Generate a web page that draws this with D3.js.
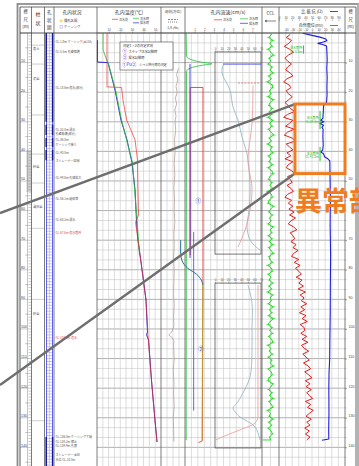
<!DOCTYPE html>
<html><head><meta charset="utf-8">
<script src="https://cdn.jsdelivr.net/npm/d3@7"></script>
<style>
html,body{margin:0;padding:0;background:#fff;overflow:hidden}
svg{display:block;font-family:"Noto Sans CJK JP","Noto Sans",sans-serif}
</style>
</head><body>
<svg id="c" width="359" height="466"></svg>
<script>
// ---------- data ----------
const depthLabels = [10,20,30,40,50,60,70,80,90,100,110,120,130,140];
// right-hand scale: the 60 m label sits under the callout text
const rightDepthLabels = [10,20,30,40,50,70,80,90,100,110,120,130,140];
const tempTicks = [10,20,30,40,50];
const flowTicks = [1,2,3,4,5,6,7];
const insetTicks = [0,10,20,30,40,50,60,70];
const resTicks = [0,10,20,30,40,50,60,70,80,90];
const spTicks = [-40,-30,-20,-10,0,10,20,30,40];

// borehole temperature (°C) by depth (m)
const tempBlueDepth = [2.4,9.8,10.0,19.3,29.4,36.1,43.9,53.0,63.2,69.9,80.0,90.2,101.0,102.0,103.7,117.2,130.7,138.2];
const tempBlueValue = [0.4,0.4,9.5,15.5,20.6,25.8,30.1,32.7,33.9,35.2,38.7,42.1,43.4,42.6,44.3,46.8,49.8,51.6];
const tempGreenDepth = [0,5.7,8.4,10.5,19.3,29.4,43.9,63.2,75.0];
const tempGreenValue = [5.2,5.2,7.7,9.9,16.0,21.1,30.5,34.4,36.5];
const tempRedDepth = [0,18.2,18.4,22.6,29.4,36.1,42.9,53.0,61.5,63.9,67.6,80.0,90.2,102.0,117.2,130.7,138.2];
const tempRedValue = [8.6,8.6,21.1,22.3,25.5,32.7,34.8,35.2,35.7,33.1,34.4,38.7,42.1,43.8,46.8,49.8,51.6];

// flow direction trace
const dirDepth = [12,14,16,18,20,22,24,26,28,30,33,36,40,44,48,52,56,60,64,68,72,76,80,84,88,92,96,99,101,102,103,104,106,110,114,118,122,126,130,134,138];
const dirValue = [2.9,2.6,2.8,2.5,2.7,2.4,2.6,2.3,2.5,2.35,2.45,2.25,2.35,2.2,2.3,2.15,2.25,2.2,2.3,2.15,2.2,2.1,2.2,2.15,2.1,2.2,2.1,2.15,1.8,1.3,1.9,2.15,2.1,2.2,2.05,2.15,2.1,2.2,2.05,2.1,2.15];

// flow velocity (cm/s)
const flowGreenDepth = [0,7.8,8.8,9.8,10.4,10.9,11.8,13.0,137.5];
const flowGreenValue = [0.12,0.15,0.5,1.6,2.8,1.8,0.6,0.15,0.12];
const flowBlueDepth = [10.5,76.0];
const flowBlueValue = [0.52,0.52];
const flowBlue2Depth = [67.2,127.6];
const flowBlue2Value = [0.9,0.9];
const flowRedDepth = [75.0,18.4,18.4,84.5,137.8,138.4];
const flowRedValue = [0.55,0.55,1.87,1.87,1.8,1.4];
const flowOliveDepth = [84.5,100,120,137.8];
const flowOliveValue = [1.85,1.82,1.8,1.78];
const flowTealDepth = [70,74.5,77,79.5,81.5,83.5,85];
const flowTealValue = [-0.45,-0.45,-0.3,0.3,1.2,1.7,1.85];
const flowMarks = ["①","②"];
const flowMarkDepth = [57.4,107.4];
const flowMarkValue = [1.1,1.35];

// inset profiles
const upperBoxDepth = [6.4,74.7];
const lowerBoxDepth = [84.5,140.2];
const upperCapDepth = 10.5;
const upperCapValue = [12.2,70];
const upperBlueDepth = [10.8,13.5,19.3,25.0,29.4,35.1,39.5,42.9,52.0,59.8,65.5,69.9,72.3,73.3];
const upperBlueValue = [12.2,10.6,22.8,27.4,35.0,41.0,47.2,50.2,53.3,51.8,48.7,53.3,62.4,68.5];
const upperRedDepth = [17.6,19.3,30.4,42.9,48.0,52.0,59.8,66.6,72.3];
const upperRedValue = [57.8,57.8,56.3,50.2,53.3,56.3,53.3,45.7,35.0];
const upperRedKeyDepth = 16.9;
const upperRedKeyValue = [35,68];
const lowerBlueDepth = [85.1,91.2,100.3,108.1,116.2,122.3,125.0,126.7,128.4,129.7,133.1,137.5];
const lowerBlueValue = [50.2,56.3,56.3,56.3,53.3,41.0,33.5,27.4,32.0,38.0,60.9,68.5];
const lowerRedDepth = [85.1,129.7,131.8,134.1,136.1,137.5];
const lowerRedValue = [65.4,65.4,60.9,38.0,15.2,1.0];

// CCL, sampled every 1 m from 0.5 m
const cclValue = [
 0.6,-1.2,1.5,-0.4,1.1,-1.6,0.3,1.8,-0.9,0.2,
 -1.4,1.0,-0.3,1.6,-1.1,0.5,-1.8,0.9,1.3,-0.6,
 0.4,-1.5,1.7,-0.2,-1.0,1.2,-0.7,0.8,-1.6,1.4,
 -0.5,1.1,-1.3,0.3,1.9,-0.8,0.6,-1.7,1.0,-0.1,
 1.5,-1.2,0.2,-0.9,1.3,-1.5,0.7,1.6,-0.4,-1.1,
 0.9,-0.3,1.4,-1.7,0.5,1.1,-0.8,-1.4,1.8,0.1,
 -1.0,1.2,-0.6,0.4,-1.5,1.6,-0.2,0.8,-1.3,1.0,
 -0.7,1.5,-1.1,0.3,1.7,-0.9,-0.4,1.2,-1.6,0.6,
 1.1,-1.3,0.2,-0.8,1.4,-1.0,0.7,-1.7,1.3,-0.2,
 0.5,-1.4,1.6,-0.6,0.9,-1.2,1.8,-0.3,-1.5,1.0,
 -0.4,1.3,-1.1,0.6,1.5,-1.6,0.2,-0.7,1.2,-1.3,
 0.8,-0.2,1.7,-1.4,0.4,1.1,-0.9,-1.5,1.4,0.3,
 -1.2,0.9,-0.5,1.6,-1.0,0.6,1.3,-1.7,0.1,-0.8,
 1.5,-1.1,0.7,-1.3,0.4,1.2,-0.6,0.2];
const cclEndDepth = 137.5;
const cclEndValue = [-4.6,0.2];

// self potential (mV), sampled every 1 m from 0.5 m
const spValue = [
 -33,-39,-31,-35,-42,-34,-28,-36,-41,-37,
 -31,-37,-40,-33,-29,-38,-43,-35,-32,-39,
 -36,-30,-35,-41,-36,-33,-26,-37,-43,-29,
 -34,-40,-27,-37,-42,-30,-25,-39,-34,-29,
 -38,-32,-41,-29,-36,-39,-31,-26,-37,-33,
 -30,-38,-32,-28,-37,-41,-31,-36,-29,-35,
 -27,-34,-25,-32,-36,-28,-23,-33,-29,-26,
 -32,-24,-29,-21,-28,-31,-20,-27,-18,-25,
 -20,-16,-24,-15,-20,-13,-21,-10,-18,-12,
 -16,-8,-17,-11,-19,-9,-15,-7,-18,-12,
 -11,-17,-8,-15,-6,-16,-12,-5,-14,-9,
 -4,-13,-6,-2,-11,-5,0,-10,-3,-9,
 -1,-8,-4,1,-10,-2,-7,2,-4,-9,
 -1,-8,-3,-11,-4,-10,-3,-8];

// resistivity (Ω)
const resDepth = [0.1,0.8,1.4,2.0,2.6,3.1,3.5,3.9,4.4,6,9,12,15,18,21,23.5,24.5,27,28.8,29.5,30,30.6,31.2,31.8,32.5,35,38,39.5,40.2,40.8,41.8,42.5,43.2,48,55,65,75,85,95,105,110,115,120,128,134,137.2,137.6];
const resValue = [36,50,62,71,72.5,66,59,66,72,72.5,73,72.4,73,72.6,72.8,72,67.5,67,66.5,63,68,62,67.5,65,66.8,66.5,67,66.2,63.5,67.5,69,74,77,77.3,77.8,77.5,78.2,77.8,77.6,77,76.8,75.8,75.5,75.7,75.3,75.5,65];

// inflow markers on the resistivity track
const markDepth = [5.6,29.3,41.2];
const markBarTop = [4.2,26.4,38.5];
const markBarBottom = [7.0,32.5,43.2];
const markValue = [36,61,61];
const markLine1 = ["湧水箇所","流入箇所","流入箇所"];
const markLine2 = ["GL-5.6m","GL-29.3m","GL-41.2m"];

// anomaly zone
const anomalyDepth = [24,47.5];
const anomalyRes = [24.2,100];

// lithology column
const lithoBounds = [4.1,10.5,27.7,40.9,50.7,66,90,131];
const lithoNames = ["表土","泥岩","砂岩","凝灰岩","砂岩"];
const lithoDepth = [5.7,15.9,45.6,59.1,95.3];

// borehole notes
const noteDepth = [3.0,6.4,18.6,32.6,34.1,36.2,37.7,40.5,43.2,49.0,56.1,63.2,67.6,103.0,136.6,138.1,139.6,142.6,144.2];
const noteText = ["GL-1.0m ケーシング(φ116)","GL-5.5m 孔壁保護","GL-18.6m 逸水(部分)","GL-32.8m 湧水","孔壁崩壊(部分)","GL-36.8m","ケーシング挿入","GL-40.5m","ストレーナー区間","GL-49.0m 孔径拡大","GL-56.1m 破砕帯","GL-63.2m 湧水","GL-67.6m 逸水箇所","GL-103.0m 逸水","GL-136.8m ケーシング下端","GL-138.2m 掘止","GL-139.9m 孔底","ストレーナー φ50","水位 GL-10.5m"];
const noteRed = [12,13];

// ---------- scales ----------
const svg = d3.select('#c');
const y = d3.scaleLinear().domain([0,146.3]).range([33,466]);
const tempX = d3.scaleLinear().domain([0,55]).range([97,161]);
const dirX = d3.scaleLinear().domain([0,4]).range([161,185]);
const flowX = d3.scaleLinear().domain([0,8]).range([185,262]);
const insetX = d3.scaleLinear().domain([0,70]).range([215,261]);
const cclX = d3.scaleLinear().domain([-5,5]).range([262,279]);
const resX = d3.scaleLinear().domain([0,100]).range([279,345]);
const spX = d3.scaleLinear().domain([-50,50]).range([279,345]);

const pairs = (ds, vs) => d3.zip(ds, vs);
const lineOf = (xs, curve) => d3.line().x(p => xs(p[1])).y(p => y(p[0])).curve(curve || d3.curveLinear);
function trace(ds, vs, xs, color, w, opts) {
  opts = opts || {};
  return svg.append('path').datum(pairs(ds, vs))
    .attr('d', lineOf(xs, opts.curve))
    .attr('fill', 'none').attr('stroke', color)
    .attr('stroke-width', w).attr('stroke-opacity', opts.op == null ? 1 : opts.op)
    .attr('stroke-dasharray', opts.dash || null)
    .attr('stroke-linejoin', 'round');
}

// ---------- grid ----------
const gridTop = 33, gridBot = 466;
const minor = d3.range(0, 44).map(k => k * 10 / 3);
svg.append('g').selectAll('line').data(minor).join('line')
  .attr('x1', 97).attr('x2', 345)
  .attr('y1', d => y(d)).attr('y2', d => y(d))
  .attr('stroke', (d, i) => i % 3 === 0 ? '#9c9c9c' : '#c6c6c6')
  .attr('stroke-width', (d, i) => i % 3 === 0 ? 0.8 : 0.6);

const vgrid = [].concat(
  d3.range(5, 55, 5).map(v => tempX(v)),
  [1,2,3].map(v => dirX(v)),
  d3.range(1, 12).map(k => flowX(k * 8 / 12)),
  [cclX(0)],
  d3.range(10, 100, 10).map(v => resX(v))
);
svg.append('g').selectAll('line').data(vgrid).join('line')
  .attr('x1', d => d).attr('x2', d => d).attr('y1', gridTop).attr('y2', gridBot)
  .attr('stroke', '#c6c6c6').attr('stroke-width', 0.6);

// ---------- depth ruler (left) ----------
svg.append('rect').attr('x', 26.5).attr('y', y(39.5)).attr('width', 5).attr('height', y(53.7) - y(39.5))
  .attr('fill', '#d0d0d0');
svg.append('line').attr('x1', 27.5).attr('x2', 27.5).attr('y1', gridTop).attr('y2', gridBot)
  .attr('stroke', '#888').attr('stroke-width', 0.5);
svg.append('g').selectAll('line').data(d3.range(0, 147, 1)).join('line')
  .attr('x1', d => d % 10 === 0 ? 20 : (d % 5 === 0 ? 25 : 28.5)).attr('x2', 31.5)
  .attr('y1', d => y(d)).attr('y2', d => y(d))
  .attr('stroke', '#888').attr('stroke-width', 0.45);
const leftAxis = svg.append('g').attr('transform', 'translate(20,0)')
  .call(d3.axisRight(y).tickValues(depthLabels).tickSize(0).tickPadding(1));
const rightAxis = svg.append('g').attr('transform', 'translate(345,0)')
  .call(d3.axisRight(y).tickValues(rightDepthLabels).tickSize(2).tickPadding(1.5));
[leftAxis, rightAxis].forEach(a => {
  a.select('.domain').remove();
  a.selectAll('text').attr('font-size', 3.6).attr('fill', '#444').attr('dy', '-0.3em');
  a.selectAll('line').attr('stroke', '#666').attr('stroke-width', 0.5);
});
svg.append('g').selectAll('line').data(minor).join('line')
  .attr('x1', 345).attr('x2', 346.5).attr('y1', d => y(d)).attr('y2', d => y(d))
  .attr('stroke', '#777').attr('stroke-width', 0.4);

// ---------- lithology column ----------
svg.append('g').selectAll('line').data(lithoBounds).join('line')
  .attr('x1', 31.5).attr('x2', 44.5).attr('y1', d => y(d)).attr('y2', d => y(d))
  .attr('stroke', '#9a9a9a').attr('stroke-width', 0.5);
svg.append('g').selectAll('text').data(lithoNames).join('text')
  .attr('x', 33).attr('y', (d, i) => y(lithoDepth[i])).text(d => d)
  .attr('font-size', 3.2).attr('fill', '#555');

// ---------- borehole diagram ----------
const ladder = d3.range(0, 146.3, 1);
svg.append('g').selectAll('line').data(ladder).join('line')
  .attr('x1', 46.5).attr('x2', 52.5).attr('y1', d => y(d)).attr('y2', d => y(d))
  .attr('stroke', '#8c8cf0').attr('stroke-width', 0.5);
[[46.5, '#3c3ce6', 0.8], [49.5, '#9c9cf2', 0.5], [52.5, '#3c3ce6', 0.8]].forEach(v => {
  svg.append('line').attr('x1', v[0]).attr('x2', v[0]).attr('y1', gridTop).attr('y2', gridBot)
    .attr('stroke', v[1]).attr('stroke-width', v[2]);
});
const casing = [[0, 30], [31, 34.5], [35.5, 38.5], [39.5, 43], [136.5, 146.3]];
casing.forEach(c => {
  [46.2, 52.6].forEach(xx => svg.append('line').attr('x1', xx).attr('x2', xx)
    .attr('y1', y(c[0])).attr('y2', y(c[1])).attr('stroke', '#15159a').attr('stroke-width', 1.5));
});

// ---------- borehole notes ----------
svg.append('g').selectAll('text').data(noteText).join('text')
  .attr('x', 55.5).attr('y', (d, i) => y(noteDepth[i]) + 1.2).text(d => d)
  .attr('font-size', 3.0)
  .attr('fill', (d, i) => noteRed.includes(i) ? '#e04848' : '#555');

// ---------- temperature ----------
trace(tempBlueDepth, tempBlueValue, tempX, '#2a2ad8', 1.0);
trace(tempGreenDepth, tempGreenValue, tempX, '#2fc03c', 1.0, {op: 0.85});
trace(tempRedDepth, tempRedValue, tempX, '#e8322e', 1.0, {op: 0.7});

// ---------- flow direction ----------
trace(dirDepth, dirValue, dirX, '#b59e9e', 0.8);

// ---------- flow velocity ----------
trace(flowGreenDepth, flowGreenValue, flowX, '#33c24a', 0.9, {curve: d3.curveMonotoneY});
trace(flowRedDepth, flowRedValue, flowX, '#e03a3a', 0.9);
trace(flowBlueDepth, flowBlueValue, flowX, '#3535e0', 0.9);
trace(flowBlue2Depth, flowBlue2Value, flowX, '#5050ee', 0.9);
trace(flowOliveDepth, flowOliveValue, flowX, '#b5a22a', 0.9);
trace(flowTealDepth, flowTealValue, flowX, '#1f6f8f', 1.0, {curve: d3.curveMonotoneY});
svg.append('g').selectAll('text').data(flowMarks).join('text')
  .attr('x', (d, i) => flowX(flowMarkValue[i])).attr('y', (d, i) => y(flowMarkDepth[i]))
  .text(d => d).attr('font-size', 5.5).attr('fill', '#3030d0');

// insets
[upperBoxDepth, lowerBoxDepth].forEach(b => {
  svg.append('rect').attr('x', insetX(0)).attr('y', y(b[0]))
    .attr('width', insetX(70) - insetX(0)).attr('height', y(b[1]) - y(b[0]))
    .attr('fill', 'none').attr('stroke', '#555').attr('stroke-width', 0.8);
  const ax = svg.append('g').attr('transform', `translate(0,${y(b[0])})`)
    .call(d3.axisTop(insetX).tickValues(insetTicks).tickSize(1.5).tickPadding(0.8));
  ax.select('.domain').remove();
  ax.selectAll('text').attr('font-size', 2.8).attr('fill', '#555');
  ax.selectAll('line').attr('stroke', '#555').attr('stroke-width', 0.4);
});
svg.append('line').attr('x1', insetX(upperCapValue[0])).attr('x2', insetX(upperCapValue[1]))
  .attr('y1', y(upperCapDepth)).attr('y2', y(upperCapDepth)).attr('stroke', '#3a3ae0').attr('stroke-width', 0.9);
svg.append('line').attr('x1', insetX(upperRedKeyValue[0])).attr('x2', insetX(upperRedKeyValue[1]))
  .attr('y1', y(upperRedKeyDepth)).attr('y2', y(upperRedKeyDepth))
  .attr('stroke', '#e07070').attr('stroke-width', 0.8).attr('stroke-dasharray', '2,1.2');
trace(upperBlueDepth, upperBlueValue, insetX, '#9ab8c6', 0.9, {curve: d3.curveCatmullRom});
trace(upperRedDepth, upperRedValue, insetX, '#eaa2a2', 0.9, {curve: d3.curveCatmullRom});
trace(lowerBlueDepth, lowerBlueValue, insetX, '#9ab8c6', 0.9, {curve: d3.curveCatmullRom});
trace(lowerRedDepth, lowerRedValue, insetX, '#eaa2a2', 0.9, {curve: d3.curveMonotoneY});

// ---------- CCL ----------
const cclDepth = cclValue.map((v, i) => 0.5 + i);
svg.append('g').selectAll('line').data(pairs(cclDepth, cclValue)).join('line')
  .attr('x1', cclX(0)).attr('x2', p => cclX(p[1] * 1.6))
  .attr('y1', p => y(p[0])).attr('y2', p => y(p[0]))
  .attr('stroke', '#3ce83c').attr('stroke-width', 0.8);
trace(cclDepth, cclValue, cclX, '#22d822', 1.0);
svg.append('line').attr('x1', cclX(cclEndValue[0])).attr('x2', cclX(cclEndValue[1]))
  .attr('y1', y(cclEndDepth)).attr('y2', y(cclEndDepth)).attr('stroke', '#2fe02f').attr('stroke-width', 1);

// ---------- SP & resistivity ----------
const spDepth = spValue.map((v, i) => 0.5 + i);
trace(spDepth, spValue, spX, '#e41e1e', 1.0);
trace(resDepth, resValue, resX, '#1e1ed8', 1.1);

// inflow markers
markDepth.forEach((d, i) => {
  svg.append('line').attr('x1', resX(markValue[i]) + 0.8).attr('x2', resX(markValue[i]) + 0.8)
    .attr('y1', y(markBarTop[i])).attr('y2', y(markBarBottom[i]))
    .attr('stroke', '#2bc42b').attr('stroke-width', 1);
  svg.append('text').attr('x', resX(markValue[i]) - 0.5).attr('y', y(d) - 0.3)
    .attr('text-anchor', 'end').attr('font-size', 3.1).attr('fill', '#2bb82b').text(markLine1[i]);
  svg.append('text').attr('x', resX(markValue[i]) - 0.5).attr('y', y(d) + 3.3)
    .attr('text-anchor', 'end').attr('font-size', 3.1).attr('fill', '#2bb82b').text(markLine2[i]);
});

// ---------- column frame ----------
const cols = [31.5, 44.5, 54, 97, 161, 185, 262, 279, 345];
svg.append('g').selectAll('line').data(cols).join('line')
  .attr('x1', d => d).attr('x2', d => d).attr('y1', 7).attr('y2', gridBot)
  .attr('stroke', '#5a5a5a').attr('stroke-width', 0.8);
svg.append('line').attr('x1', 20).attr('x2', 356).attr('y1', 33).attr('y2', 33)
  .attr('stroke', '#444').attr('stroke-width', 0.9);
svg.append('line').attr('x1', 20).attr('x2', 356).attr('y1', 7).attr('y2', 7)
  .attr('stroke', '#444').attr('stroke-width', 0.8);
svg.append('line').attr('x1', 17).attr('x2', 358).attr('y1', 4).attr('y2', 4)
  .attr('stroke', '#9a9a9a').attr('stroke-width', 2);
svg.append('line').attr('x1', 17.5).attr('x2', 17.5).attr('y1', 3).attr('y2', gridBot)
  .attr('stroke', '#8a8a8a').attr('stroke-width', 1.8);
svg.append('line').attr('x1', 20).attr('x2', 20).attr('y1', 7).attr('y2', gridBot)
  .attr('stroke', '#444').attr('stroke-width', 0.9);
svg.append('line').attr('x1', 356).attr('x2', 356).attr('y1', 7).attr('y2', gridBot)
  .attr('stroke', '#555').attr('stroke-width', 0.9);
svg.append('line').attr('x1', 358).attr('x2', 358).attr('y1', 3).attr('y2', gridBot)
  .attr('stroke', '#9a9a9a').attr('stroke-width', 1.5);

// ---------- header ----------
const hdr = svg.append('g').attr('fill', '#333');
function htext(x, yy, s, size, color, anchor) {
  hdr.append('text').attr('x', x).attr('y', yy).text(s).attr('font-size', size)
    .attr('fill', color || '#333').attr('text-anchor', anchor || 'middle');
}
[["標", 13], ["尺", 20.5], ["(m)", 28]].forEach(t => { htext(25.7, t[1], t[0], 4.2); htext(350.5, t[1], t[0], 4.2); });
htext(38, 16, "柱", 5); htext(38, 25, "状", 5);
htext(49.2, 14, "孔", 4.5); htext(49.2, 21.5, "状", 4.5); htext(49.2, 29, "図", 4.5);
htext(72, 14, "孔内状況", 4.8);
hdr.append('rect').attr('x', 60).attr('y', 19.6).attr('width', 2.5).attr('height', 2.5).attr('fill', '#f2e25a');
htext(64, 22.2, "裸孔区間", 3.3, '#333', 'start');
hdr.append('rect').attr('x', 60).attr('y', 25.6).attr('width', 2.5).attr('height', 2.5).attr('fill', 'none').attr('stroke', '#a79ae0').attr('stroke-width', 0.5);
htext(64, 28.2, "ケーシング", 3.3, '#333', 'start');

htext(129, 14, "孔内温度(℃)", 5);
[[112, 118, '#e8322e', "注水前", 20.5], [133, 139, '#2fc03c', "注水時", 19.5], [133, 139, '#2a2ad8', "揚水時", 24]].forEach(k => {
  hdr.append('line').attr('x1', k[0]).attr('x2', k[1]).attr('y1', k[4] - 1.2).attr('y2', k[4] - 1.2)
    .attr('stroke', k[2]).attr('stroke-width', 0.7);
  htext(k[1] + 1, k[4], k[3], 3, '#444', 'start');
});

htext(173, 13, "流向(方位)", 3.6);
hdr.append('line').attr('x1', 168).attr('x2', 178).attr('y1', 19.5).attr('y2', 19.5).attr('stroke', '#333').attr('stroke-width', 0.6).attr('stroke-dasharray', '2,1');
hdr.append('line').attr('x1', 168).attr('x2', 178).attr('y1', 22).attr('y2', 22).attr('stroke', '#333').attr('stroke-width', 0.6).attr('stroke-dasharray', '1,1');
htext(173, 29, "1/8 (fts)", 3.2);

htext(228, 14, "孔内流速(cm/s)", 5);
[[214, 222, '#e8322e', "注水前", 21], [240, 248, '#2fc03c', "注水時", 20], [240, 248, '#2a2ad8', "揚水時", 24.5]].forEach(k => {
  hdr.append('line').attr('x1', k[0]).attr('x2', k[1]).attr('y1', k[4] - 1.2).attr('y2', k[4] - 1.2)
    .attr('stroke', k[2]).attr('stroke-width', 0.7);
  htext(k[1] + 1, k[4], k[3], 3, '#444', 'start');
});

htext(270.5, 15, "CCL", 4.6);
hdr.append('line').attr('x1', 265).attr('x2', 276).attr('y1', 21).attr('y2', 21).attr('stroke', '#333').attr('stroke-width', 0.6);
hdr.append('path').attr('d', 'M265,21 l2,-1 M265,21 l2,1').attr('stroke', '#333').attr('stroke-width', 0.6);

htext(312, 12.5, "比 抵 抗 (Ω)", 4.2);
hdr.append('line').attr('x1', 330).attr('x2', 338).attr('y1', 11.5).attr('y2', 11.5).attr('stroke', '#3030e0').attr('stroke-width', 0.9);
htext(311, 26.5, "自然電位(mV)", 4);
hdr.append('line').attr('x1', 330).attr('x2', 338).attr('y1', 25.5).attr('y2', 25.5).attr('stroke', '#e03030').attr('stroke-width', 0.9);

function headAxis(scale, vals, yy) {
  const a = svg.append('g').attr('transform', `translate(0,${yy})`)
    .call(d3.axisTop(scale).tickValues(vals).tickSize(1.6).tickPadding(0.8));
  a.select('.domain').remove();
  a.selectAll('text').attr('font-size', 2.9).attr('fill', '#444');
  a.selectAll('line').attr('stroke', '#444').attr('stroke-width', 0.4);
}
headAxis(tempX, tempTicks, 33);
headAxis(flowX, flowTicks, 33);
headAxis(resX, resTicks, 21);
headAxis(spX, spTicks, 33);

// ---------- measurement legend ----------
const lg = svg.append('g');
lg.append('rect').attr('x', 120).attr('y', 42).attr('width', 53).attr('height', 28)
  .attr('fill', '#fff').attr('stroke', '#444').attr('stroke-width', 0.6);
lg.append('text').attr('x', 123).attr('y', 46.8).text("測定1・2の測定状況").attr('font-size', 3.3).attr('fill', '#333');
[["①", "ステップ注水試験時", 52.8], ["②", "揚水試験時", 58.8]].forEach(r => {
  lg.append('text').attr('x', 122.5).attr('y', r[2]).text(r[0]).attr('font-size', 4.6).attr('fill', '#3030d0');
  lg.append('text').attr('x', 128.5).attr('y', r[2] - 0.3).text(r[1]).attr('font-size', 3.2).attr('fill', '#333');
});
lg.append('text').attr('x', 122).attr('y', 66).text("①Pu②").attr('font-size', 4.4).attr('fill', '#3030d0');
lg.append('text').attr('x', 139).attr('y', 65.7).text("①→②移行時の測定").attr('font-size', 3.1).attr('fill', '#333');

// ---------- anomaly callout ----------
const ax0 = resX(anomalyRes[0]), ax1 = resX(anomalyRes[1]);
const ay0 = y(anomalyDepth[0]), ay1 = y(anomalyDepth[1]);
svg.append('line').attr('x1', 0).attr('y1', 213).attr('x2', ax0).attr('y2', ay0)
  .attr('stroke', '#6e6e6e').attr('stroke-width', 2.4);
svg.append('line').attr('x1', 0).attr('y1', 385).attr('x2', ax0).attr('y2', ay1)
  .attr('stroke', '#6e6e6e').attr('stroke-width', 2.4);
svg.append('rect').attr('x', ax0).attr('y', ay0).attr('width', ax1 - ax0).attr('height', ay1 - ay0)
  .attr('fill', 'none').attr('stroke', '#ef7d1f').attr('stroke-width', 3);
svg.append('text').attr('x', ax0).attr('y', 211).text("異常部")
  .attr('font-size', 27).attr('font-weight', 'bold').attr('fill', '#ef7d1f');
</script>
</body></html>
